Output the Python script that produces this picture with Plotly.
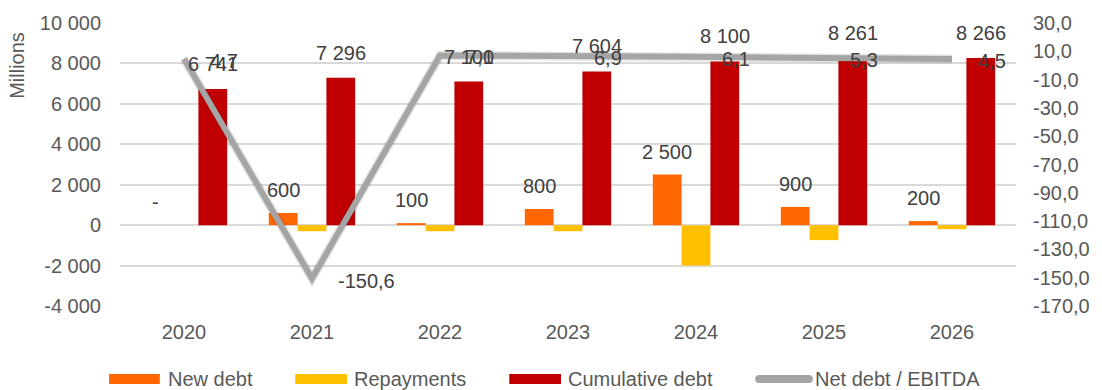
import plotly.graph_objects as go

# ---- data -------------------------------------------------------------
years = [2020, 2021, 2022, 2023, 2024, 2025, 2026]
new_debt = [0, 600, 100, 800, 2500, 900, 200]
repayments = [0, -300, -300, -300, -2000, -740, -200]
cumulative_debt = [6741, 7296, 7100, 7604, 8100, 8261, 8266]
net_debt_ebitda = [4.7, -150.6, 7.1, 6.9, 6.1, 5.3, 4.5]

left_ticks = [-4000, -2000, 0, 2000, 4000, 6000, 8000, 10000]
right_ticks = [-170, -150, -130, -110, -90, -70, -50, -30, -10, 10, 30]

series_names = ["New debt", "Repayments", "Cumulative debt", "Net debt / EBITDA"]

# ---- styling ----------------------------------------------------------
C_NEW = "#FF6600"
C_REP = "#FFC000"
C_CUM = "#C00000"
C_LINE = "#A5A5A5"
C_GRID = "#D9D9D9"
C_TICK = "#595959"
C_LABEL = "#404040"
FONT = "Liberation Sans, Arial, sans-serif"
FS = 20

W, H = 1102, 390
M_L, M_R, M_T, M_B = 120, 82, 19, 84
PW, PH = W - M_L - M_R, H - M_T - M_B

BAR_W = 0.225  # width of one bar in category units


def fmt_int(v):
    return "-" if v == 0 else f"{v:,}".replace(",", " ")


def fmt_dec(v):
    return f"{v:.1f}".replace(".", ",")


def px_x(x):
    return (x - M_L) / PW


def px_y(y):
    return (H - M_B - y) / PH


fig = go.Figure()

offsets = [-1.5 * BAR_W, -0.5 * BAR_W, 0.5 * BAR_W]
bar_series = [(new_debt, C_NEW), (repayments, C_REP), (cumulative_debt, C_CUM)]
for (vals, col), off, name in zip(bar_series, offsets, series_names):
    fig.add_trace(go.Bar(
        x=years, y=vals, name=name, width=BAR_W, offset=off,
        marker=dict(color=col, line=dict(width=0)),
        yaxis="y", showlegend=False, hoverinfo="skip",
    ))

# soft shadow under the ratio line, then the line itself
fig.add_trace(go.Scatter(
    x=years, y=net_debt_ebitda, mode="lines",
    line=dict(color="rgba(0,0,0,0.10)", width=9), yaxis="y2",
    showlegend=False, hoverinfo="skip",
))
fig.add_trace(go.Scatter(
    x=years, y=net_debt_ebitda, name=series_names[3], mode="lines",
    line=dict(color=C_LINE, width=6), yaxis="y2",
    showlegend=False, hoverinfo="skip",
))

annotations = []
# value labels above new-debt bars
for yr, v in zip(years, new_debt):
    annotations.append(dict(
        x=yr - BAR_W, y=max(v, 0), xref="x", yref="y", text=fmt_int(v),
        showarrow=False, yanchor="middle", yshift=23,
        font=dict(size=FS, color=C_LABEL, family=FONT),
    ))
# value labels above cumulative bars
for yr, v in zip(years, cumulative_debt):
    annotations.append(dict(
        x=yr + BAR_W, y=v, xref="x", yref="y", text=fmt_int(v),
        showarrow=False, yanchor="middle", yshift=25,
        font=dict(size=FS, color=C_LABEL, family=FONT),
    ))
# ratio labels to the right of each line point
for yr, v in zip(years, net_debt_ebitda):
    annotations.append(dict(
        x=yr, y=v, xref="x", yref="y2", text=fmt_dec(v),
        showarrow=False, xanchor="left", yanchor="middle", xshift=24, yshift=-2,
        font=dict(size=FS, color=C_LABEL, family=FONT),
    ))

# axis title
annotations.append(dict(
    x=px_x(17), y=px_y(62), xref="paper", yref="paper", text="Millions",
    textangle=-90, showarrow=False, xanchor="center", yanchor="middle",
    font=dict(size=FS, color=C_TICK, family=FONT),
))

# legend drawn along the bottom
shapes = []
leg_y = 380
leg_items = [
    (series_names[0], C_NEW, 109, 160, 166, "rect"),
    (series_names[1], C_REP, 296, 348, 353, "rect"),
    (series_names[2], C_CUM, 511, 563, 568, "rect"),
    (series_names[3], C_LINE, 762, 812, 816, "line"),
]
for name, col, x0, x1, tx, kind in leg_items:
    if kind == "rect":
        shapes.append(dict(
            type="rect", xref="paper", yref="paper",
            x0=px_x(x0), x1=px_x(x1), y0=px_y(leg_y + 5), y1=px_y(leg_y - 5),
            fillcolor=col, line=dict(width=0), layer="above",
        ))
    else:
        shapes.append(dict(
            type="line", xref="paper", yref="paper",
            x0=px_x(x0), x1=px_x(x1), y0=px_y(leg_y), y1=px_y(leg_y),
            line=dict(color=col, width=8), layer="above",
        ))
        for cx in (x0, x1):
            shapes.append(dict(
                type="circle", xref="paper", yref="paper",
                x0=px_x(cx - 4), x1=px_x(cx + 4),
                y0=px_y(leg_y + 4), y1=px_y(leg_y - 4),
                fillcolor=col, line=dict(width=0), layer="above",
            ))
    annotations.append(dict(
        x=px_x(tx), y=px_y(leg_y), xref="paper", yref="paper", text=name,
        showarrow=False, xanchor="left", yanchor="middle",
        font=dict(size=FS, color=C_TICK, family=FONT),
    ))

fig.update_layout(
    width=W, height=H,
    margin=dict(l=M_L, r=M_R, t=M_T, b=M_B, pad=0),
    paper_bgcolor="white", plot_bgcolor="white",
    barmode="overlay",
    font=dict(family=FONT, size=FS, color=C_TICK),
    xaxis=dict(
        range=[2019.5, 2026.5], tickvals=years, ticktext=[str(y) for y in years],
        showgrid=False, zeroline=False, showline=False, ticks="",
        ticklabelstandoff=12, tickfont=dict(size=FS, color=C_TICK),
    ),
    yaxis=dict(
        range=[-4000, 10000], tickvals=left_ticks,
        ticktext=[fmt_int(v) if v != 0 else "0" for v in left_ticks],
        showgrid=True, gridcolor=C_GRID, gridwidth=1.5,
        zeroline=False, showline=False, ticks="",
        ticklabelstandoff=18, tickfont=dict(size=FS, color=C_TICK),
    ),
    yaxis2=dict(
        range=[-170, 30], tickvals=right_ticks,
        ticktext=[fmt_dec(v) for v in right_ticks],
        overlaying="y", side="right", showgrid=False, zeroline=False,
        showline=False, ticks="", ticklabelstandoff=16,
        tickfont=dict(size=FS, color=C_TICK),
    ),
    annotations=annotations,
    shapes=shapes,
)

fig.write_html("out.html")
